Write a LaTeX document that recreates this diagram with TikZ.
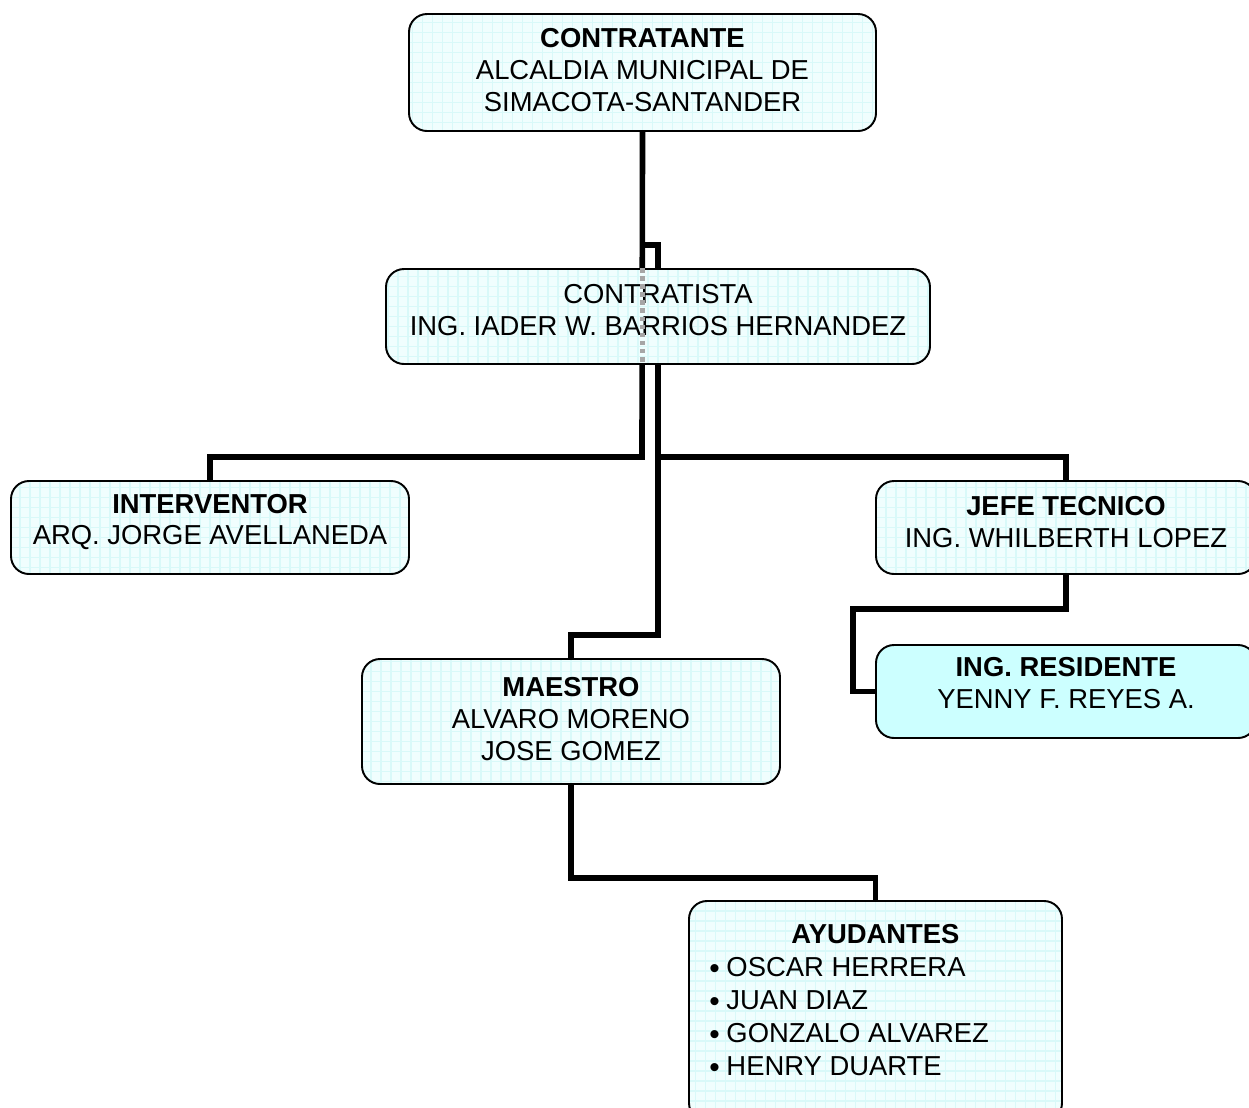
\documentclass[tikz,border=0pt]{standalone}
\usepackage{fontspec}
\setmainfont{Liberation Sans}
\usetikzlibrary{backgrounds}
\definecolor{boxfill}{HTML}{F0FEFE}
\definecolor{gridc}{HTML}{D9F9F9}
\definecolor{resfill}{HTML}{CCFFFF}
\tikzset{
  orgbox/.style={draw=black, line width=1.1pt, rounded corners=0.36cm, fill=boxfill,
    inner sep=0pt,
    path picture={\draw[gridc, line width=0.7pt] (path picture bounding box.south west) grid[step=0.2cm] (path picture bounding box.north east);}},
  resbox/.style={draw=black, line width=1.1pt, rounded corners=0.36cm, fill=resfill, inner sep=0pt},
  orgtext/.style={align=center, inner sep=0pt, font=\fontsize{15.6}{18.2}\selectfont},
  conn/.style={draw=black, line width=3.2pt, line cap=rect}
}
\newcommand{\blt}{\raisebox{-0.12ex}{\fontsize{17}{17}\selectfont•}\hspace{3.8pt}}
\begin{document}
\begin{tikzpicture}[x=0.02cm, y=-0.02cm]
\useasboundingbox (0,0) rectangle (1249,1107);
\node[orgbox, minimum width=467*0.02cm, minimum height=117*0.02cm] (top) at (642.5,72.5) {};
\node[orgtext] (toptext) at (642.5,70) {\textbf{CONTRATANTE}\\ALCALDIA MUNICIPAL DE\\SIMACOTA-SANTANDER};
\node[orgbox, minimum width=544*0.02cm, minimum height=95*0.02cm] (mid) at (658,316.5) {};
\node[orgtext] (midtext) at (658,310) {CONTRATISTA\\ING. IADER W. BARRIOS HERNANDEZ};
\node[orgbox, minimum width=398*0.02cm, minimum height=93*0.02cm] (interv) at (210,527.5) {};
\node[orgtext] (intervtext) at (210,522) {\textbf{INTERVENTOR}\\ARQ. JORGE AVELLANEDA};
\node[orgbox, minimum width=380*0.02cm, minimum height=93*0.02cm] (jefe) at (1066,527.5) {};
\node[orgtext] (jefetext) at (1066,522) {\textbf{JEFE TECNICO}\\ING. WHILBERTH LOPEZ};
\node[resbox, minimum width=380*0.02cm, minimum height=93*0.02cm] (resid) at (1066,691.5) {};
\node[orgtext] (residtext) at (1066,683) {\textbf{ING. RESIDENTE}\\YENNY F. REYES A.};
\node[orgbox, minimum width=418*0.02cm, minimum height=125*0.02cm] (maestro) at (571,721.5) {};
\node[orgtext] (maestrotext) at (571,719) {\textbf{MAESTRO}\\ALVARO MORENO\\JOSE GOMEZ};
\node[orgbox, minimum width=373*0.02cm, minimum height=220*0.02cm] (ayud) at (875.5,1011) {};
\node[orgtext] (ayudtitle) at (875.5,934) {\textbf{AYUDANTES}};
\node[orgtext, align=left, anchor=north west] (ayudlist) at (709,957)
  {\blt OSCAR HERRERA\\[0.6pt]
   \blt JUAN DIAZ\\[0.6pt]
   \blt GONZALO ALVAREZ\\[0.6pt]
   \blt HENRY DUARTE};
\coordinate (j0) at (658,245);
\coordinate (b1) at (642,457);
\coordinate (b2) at (658,635);
\coordinate (b3) at (658,457);
\coordinate (b4) at (853,609);
\coordinate (b5) at (571,878);
\begin{scope}[on background layer]
  \draw[conn] (top.south) -- (b1) -| (interv.north);
  \draw[conn] (top.south |- j0) -- (j0) -- (mid.north);
  \draw[conn] (mid.south) -- (b2) -| (maestro.north);
  \draw[conn] (b3) -| (jefe.north);
  \draw[conn] (jefe.south) |- (b4) |- (resid.west);
  \draw[conn] (maestro.south) |- (b5) -| (ayud.north);
\end{scope}
\draw[gray!70, line width=2.6pt, dotted] (top.south |- mid.north) -- (top.south |- mid.south);
\end{tikzpicture}
\end{document}
